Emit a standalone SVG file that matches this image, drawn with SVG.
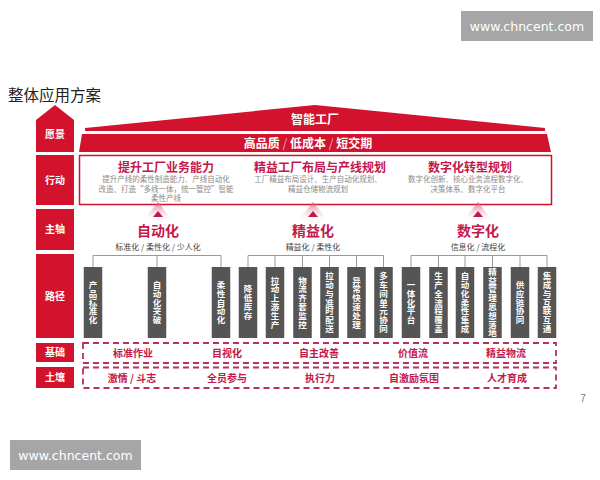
<svg xmlns="http://www.w3.org/2000/svg" width="600" height="480" viewBox="0 0 600 480">
<defs>
<style>
.cjk{font-family:"Noto Sans CJK SC","Noto Sans",sans-serif}
.lbl{font-family:"Noto Sans CJK SC",sans-serif;font-size:10px;font-weight:bold;fill:#fff;text-anchor:middle}
.redbox{fill:#d3132e}
.hd{font-family:"Noto Sans CJK SC",sans-serif;font-size:12px;font-weight:bold;fill:#c4174a;text-anchor:middle}
.ax{font-family:"Noto Sans CJK SC",sans-serif;font-size:14px;font-weight:bold;fill:#c4174a;text-anchor:middle}
.sub{font-family:"Noto Sans CJK SC",sans-serif;font-size:8px;fill:#444;text-anchor:middle}
.desc{font-family:"Noto Sans CJK SC",sans-serif;font-size:7.5px;fill:#8a8a8a;text-anchor:middle}
.pbox{fill:#555}
.ptx{font-family:"Noto Sans CJK SC",sans-serif;font-size:8.5px;font-weight:bold;fill:#fff;text-anchor:middle;writing-mode:vertical-rl;letter-spacing:0.3px}
.dash{fill:none;stroke:#b8305f;stroke-width:1.8;stroke-dasharray:6 4}
.ft{font-family:"Noto Sans CJK SC",sans-serif;font-size:10px;font-weight:bold;fill:#c4174a;text-anchor:middle}
.tree{fill:none;stroke:#999;stroke-width:1}
.wm{fill:#a6a6a6}
.wmt{font-family:"DejaVu Sans",sans-serif;font-size:12.5px;fill:#fff;text-anchor:middle}
</style>
<linearGradient id="glow" x1="0" y1="0" x2="0" y2="1">
<stop offset="0" stop-color="#e0456e" stop-opacity="0.75"/>
<stop offset="1" stop-color="#ffffff" stop-opacity="0"/>
</linearGradient>
</defs>
<rect width="600" height="480" fill="#fff"/>

<!-- watermarks -->
<g id="wm-top"><rect class="wm" x="461" y="11" width="132" height="30"/><text class="wmt" x="527" y="31">www.chncent.com</text></g>
<g id="wm-bottom"><rect class="wm" x="10" y="440" width="131" height="30"/><text class="wmt" x="75.5" y="460">www.chncent.com</text></g>

<text id="title" class="cjk" x="8" y="101" font-size="15.5" fill="#222">整体应用方案</text>
<text id="page" x="583" y="402" font-family="Liberation Sans,sans-serif" font-size="10" fill="#777" text-anchor="middle">7</text>

<!-- left labels -->
<g id="l-vision"><polygon class="redbox" points="55,105 74,120 74,152 36,152 36,120"/><text class="lbl" x="55" y="138">愿景</text></g>
<g id="l-action"><rect class="redbox" x="36" y="155" width="38" height="50"/><text class="lbl" x="55" y="184">行动</text></g>
<g id="l-axis"><rect class="redbox" x="36" y="209" width="38" height="41"/><text class="lbl" x="55" y="233">主轴</text></g>
<g id="l-path"><rect class="redbox" x="36" y="254" width="38" height="84"/><text class="lbl" x="55" y="300">路径</text></g>
<g id="l-base"><rect class="redbox" x="36" y="343" width="38" height="19"/><text class="lbl" x="55" y="356">基础</text></g>
<g id="l-soil"><rect class="redbox" x="36" y="367" width="38" height="21"/><text class="lbl" x="55" y="381">土壤</text></g>

<!-- roof -->
<g id="roof">
<polygon class="redbox" points="85,131 85,128 315,105 545,128 545,131"/>
<text class="cjk" x="315" y="124" font-size="12" font-weight="bold" fill="#fff" text-anchor="middle">智能工厂</text>
</g>
<g id="band">
<polygon class="redbox" points="82,134 547,134 551,152 79,152"/>
<text class="cjk" x="308" y="148" font-size="12" font-weight="bold" fill="#fff" text-anchor="middle">高品质 <tspan font-weight="normal" fill="#f3b0bb">/</tspan> 低成本 <tspan font-weight="normal" fill="#f3b0bb">/</tspan> 短交期</text>
</g>

<!-- action box -->
<g id="action">
<rect x="79.5" y="155.5" width="472" height="49" fill="#fff" stroke="#d3132e" stroke-width="1.5"/>
<text class="hd" x="166" y="171.5">提升工厂业务能力</text>
<text class="desc" x="166" y="182">提升产线的柔性制造能力、产线自动化</text>
<text class="desc" x="166" y="191.5">改造、打造“多线一体，统一管控”智能</text>
<text class="desc" x="166" y="201">柔性产线</text>
<text class="hd" x="320" y="171.5">精益工厂布局与产线规划</text>
<text class="desc" x="318" y="182">工厂精益布局设计、生产自动化规划、</text>
<text class="desc" x="318" y="191.5">精益仓储物流规划</text>
<text class="hd" x="470" y="171.5">数字化转型规划</text>
<text class="desc" x="468" y="182">数字化创新、核心业务流程数字化、</text>
<text class="desc" x="468" y="191.5">决策体系、数字化平台</text>
</g>

<!-- glow arrows -->
<g id="arrows">
<polygon points="158,202 142,222 174,222" fill="url(#glow)"/>
<polygon points="158,211 153,217 163,217" fill="#c4174a"/>
<polygon points="313,202 297,222 329,222" fill="url(#glow)"/>
<polygon points="313,211 308,217 318,217" fill="#c4174a"/>
<polygon points="478,202 462,222 494,222" fill="url(#glow)"/>
<polygon points="478,211 473,217 483,217" fill="#c4174a"/>
</g>

<!-- main axis -->
<g id="ax-auto"><text class="ax" x="158" y="236">自动化</text><text class="sub" x="158" y="250">标准化 / 柔性化 / 少人化</text></g>
<g id="ax-lean"><text class="ax" x="313" y="236">精益化</text><text class="sub" x="313" y="250">精益化 / 柔性化</text></g>
<g id="ax-digi"><text class="ax" x="478" y="236">数字化</text><text class="sub" x="478" y="250">信息化 / 流程化</text></g>

<!-- connectors -->
<g id="connectors" class="tree">
<path d="M93,267 V255.5 H221 V267 M157,255.5 V267"/>
<path d="M248,267 V255.5 H383.5 V267 M275,255.5 V267 M302.5,255.5 V267 M329.5,255.5 V267 M356.5,255.5 V267"/>
<path d="M411,267 V255.5 H547 V267 M438.5,255.5 V267 M465,255.5 V267 M492.5,255.5 V267 M520,255.5 V267"/>
</g>

<!-- path boxes -->
<g id="p1"><rect class="pbox" x="83.75" y="267" width="18.5" height="71"/><text class="ptx" x="93" y="302.5">产品标准化</text></g>
<g id="p2"><rect class="pbox" x="147.75" y="267" width="18.5" height="71"/><text class="ptx" x="157" y="302.5">自动化突破</text></g>
<g id="p3"><rect class="pbox" x="211.75" y="267" width="18.5" height="71"/><text class="ptx" x="221" y="302.5">柔性自动化</text></g>
<g id="p4"><rect class="pbox" x="238.75" y="267" width="18.5" height="71"/><text class="ptx" x="248" y="302.5">降低库存</text></g>
<g id="p5"><rect class="pbox" x="265.75" y="267" width="18.5" height="71"/><text class="ptx" x="275" y="302.5">拉动上游生产</text></g>
<g id="p6"><rect class="pbox" x="293.25" y="267" width="18.5" height="71"/><text class="ptx" x="302.5" y="302.5">物流齐套监控</text></g>
<g id="p7"><rect class="pbox" x="320.25" y="267" width="18.5" height="71"/><text class="ptx" x="329.5" y="302.5">拉动与准时配送</text></g>
<g id="p8"><rect class="pbox" x="347.25" y="267" width="18.5" height="71"/><text class="ptx" x="356.5" y="302.5">异常快速处理</text></g>
<g id="p9"><rect class="pbox" x="374.25" y="267" width="18.5" height="71"/><text class="ptx" x="383.5" y="302.5">多车间单元协同</text></g>
<g id="p10"><rect class="pbox" x="401.75" y="267" width="18.5" height="71"/><text class="ptx" x="411" y="302.5">一体化平台</text></g>
<g id="p11"><rect class="pbox" x="429.25" y="267" width="18.5" height="71"/><text class="ptx" x="438.5" y="302.5">生产全流程覆盖</text></g>
<g id="p12"><rect class="pbox" x="455.75" y="267" width="18.5" height="71"/><text class="ptx" x="465" y="302.5">自动化柔性集成</text></g>
<g id="p13"><rect class="pbox" x="483.25" y="267" width="18.5" height="71"/><text class="ptx" x="492.5" y="302.5">精益管理思想落地</text></g>
<g id="p14"><rect class="pbox" x="510.75" y="267" width="18.5" height="71"/><text class="ptx" x="520" y="302.5">供应链协同</text></g>
<g id="p15"><rect class="pbox" x="537.75" y="267" width="18.5" height="71"/><text class="ptx" x="547" y="302.5">集成与互联互通</text></g>

<!-- foundation rows -->
<g id="base">
<rect class="dash" x="83" y="343" width="473" height="20"/>
<text class="ft" x="133" y="356.5">标准作业</text>
<text class="ft" x="227" y="356.5">目视化</text>
<text class="ft" x="319" y="356.5">自主改善</text>
<text class="ft" x="413" y="356.5">价值流</text>
<text class="ft" x="506" y="356.5">精益物流</text>
</g>
<g id="soil">
<rect class="dash" x="83" y="367.5" width="473" height="20.5"/>
<text class="ft" x="132" y="381.5">激情 / 斗志</text>
<text class="ft" x="227" y="381.5">全员参与</text>
<text class="ft" x="320" y="381.5">执行力</text>
<text class="ft" x="414" y="381.5">自激励氛围</text>
<text class="ft" x="507" y="381.5">人才育成</text>
</g>
</svg>
